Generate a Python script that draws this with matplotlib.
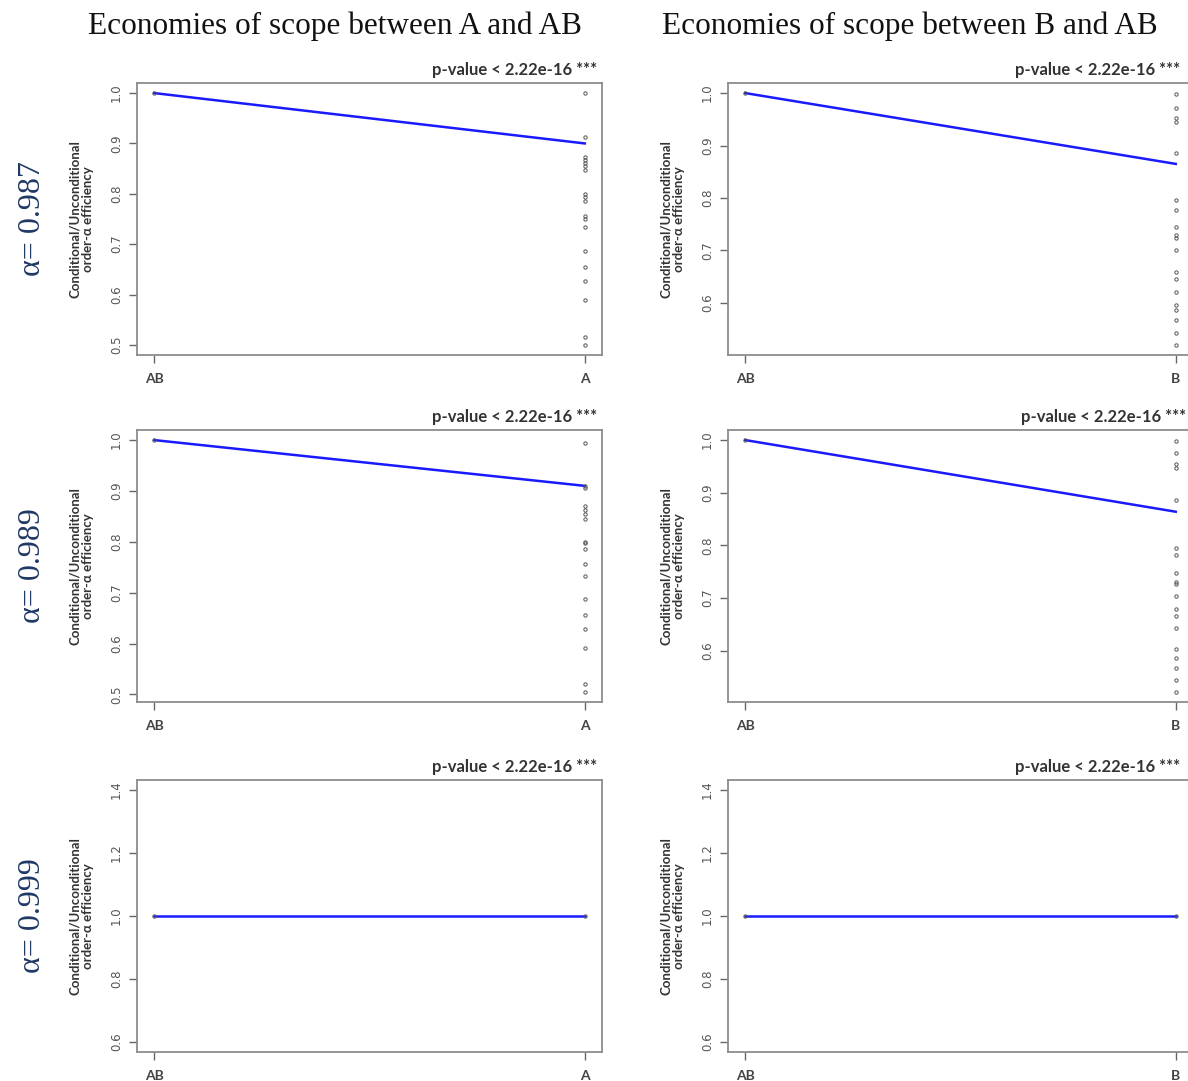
""" Economies of scope: conditional/unconditional order-alpha efficiency. """
import matplotlib
matplotlib.use('Agg')
import matplotlib.pyplot as plt

col_titles = ['Economies of scope between A and AB', 'Economies of scope between B and AB']
row_labels = ['α= 0.987', 'α= 0.989', 'α= 0.999']
groups = [['AB', 'A'], ['AB', 'B']]
pvalue = 'p-value < 2.22e-16 ***'
ylabel = 'Conditional/Unconditional\norder-α efficiency'

# efficiency of the single group (right end) for each panel, rows x cols
a_987 = [1.0, 0.913, 0.873, 0.867, 0.861, 0.855, 0.847, 0.80, 0.794, 0.786,
         0.756, 0.75, 0.734, 0.687, 0.655, 0.627, 0.589, 0.516, 0.50]
b_987 = [0.998, 0.971, 0.952, 0.945, 0.885, 0.796, 0.778, 0.744, 0.73, 0.724,
         0.70, 0.659, 0.645, 0.62, 0.596, 0.587, 0.568, 0.542, 0.52]
a_989 = [0.995, 0.91, 0.906, 0.87, 0.862, 0.854, 0.845, 0.80, 0.797, 0.785,
         0.757, 0.733, 0.688, 0.656, 0.628, 0.591, 0.52, 0.505]
b_989 = [0.999, 0.976, 0.954, 0.947, 0.887, 0.796, 0.782, 0.747, 0.731, 0.726,
         0.705, 0.680, 0.666, 0.644, 0.603, 0.587, 0.568, 0.545, 0.522]
a_999 = [1.0]
b_999 = [1.0]
points = [[a_987, b_987], [a_989, b_989], [a_999, b_999]]

# AB group value and fitted line ends (AB -> single group)
ab_value = 1.0
line_ends = [[0.90, 0.865], [0.91, 0.864], [1.0, 1.0]]

yticks = [[[0.5, 0.6, 0.7, 0.8, 0.9, 1.0], [0.6, 0.7, 0.8, 0.9, 1.0]],
          [[0.5, 0.6, 0.7, 0.8, 0.9, 1.0], [0.6, 0.7, 0.8, 0.9, 1.0]],
          [[0.6, 0.8, 1.0, 1.2, 1.4], [0.6, 0.8, 1.0, 1.2, 1.4]]]

W, H = 1188, 1081
fig = plt.figure(figsize=(W / 100, H / 100), dpi=100)

col_left = [137, 728]
row_top = [83, 430, 780]
ax_w, ax_h = 465, 272
pv_x = [[0.989, 0.972], [0.989, 0.985], [0.989, 0.972]]
spine_col = '#8c8c8c'

for r in range(3):
    for c in range(2):
        ax = fig.add_axes([col_left[c] / W, 1 - (row_top[r] + ax_h) / H,
                           ax_w / W, ax_h / H])
        vals = points[r][c]
        ax.plot([0, 1], [ab_value, line_ends[r][c]], color='#1a1aff', lw=1.8,
                zorder=2)
        ax.plot([0], [ab_value], 'o', ms=2.4, mfc='none', mec='#555555',
                mew=0.7, zorder=3)
        ax.plot([1] * len(vals), vals, 'o', ms=2.4, mfc='none', mec='#555555',
                mew=0.7, zorder=3)
        if r == 2:
            lo, hi = 0.6, 1.4
        else:
            lo, hi = min(vals), max(vals + [ab_value])
        pad = 0.04 * (hi - lo)
        ax.set_ylim(lo - pad, hi + pad)
        ax.set_xlim(-0.04, 1.04)
        ax.set_xticks([0, 1])
        ax.set_xticklabels(groups[c], fontsize=10, family='Lato',
                           fontweight='bold', color='#444444')
        ax.set_yticks(yticks[r][c])
        ax.set_yticklabels([f'{t:.1f}' for t in yticks[r][c]], rotation=90,
                           va='center', fontsize=8.5, color='#555555')
        ax.tick_params(direction='out', length=6, width=1, color='#666666',
                       pad=4)
        ax.tick_params(axis='x', pad=7)
        for s in ax.spines.values():
            s.set_color(spine_col)
            s.set_linewidth(1.3)
        ax.set_ylabel(ylabel, fontsize=9.5, family='Lato', fontweight='bold',
                      color='#333333', linespacing=1.15)
        ax.yaxis.set_label_coords(-0.092, 0.5)
        ax.text(pv_x[r][c], 1.02, pvalue, transform=ax.transAxes, ha='right',
                va='bottom', fontsize=12, family='Lato', fontweight='bold',
                color='#333333')

for c, title in enumerate(col_titles):
    cx = [335, 910][c]
    fig.text(cx / W, 1 - 26 / H, title, ha='center', va='center',
             family='Liberation Serif', fontsize=22.5, color='#111111')

for r, lab in enumerate(row_labels):
    cy = row_top[r] + ax_h / 2
    fig.text(32 / W, 1 - cy / H, lab, ha='center', va='center', rotation=90,
             family='Liberation Serif', fontsize=23, color='#1f3864')

fig.savefig('out.png', dpi=100, facecolor='white')
